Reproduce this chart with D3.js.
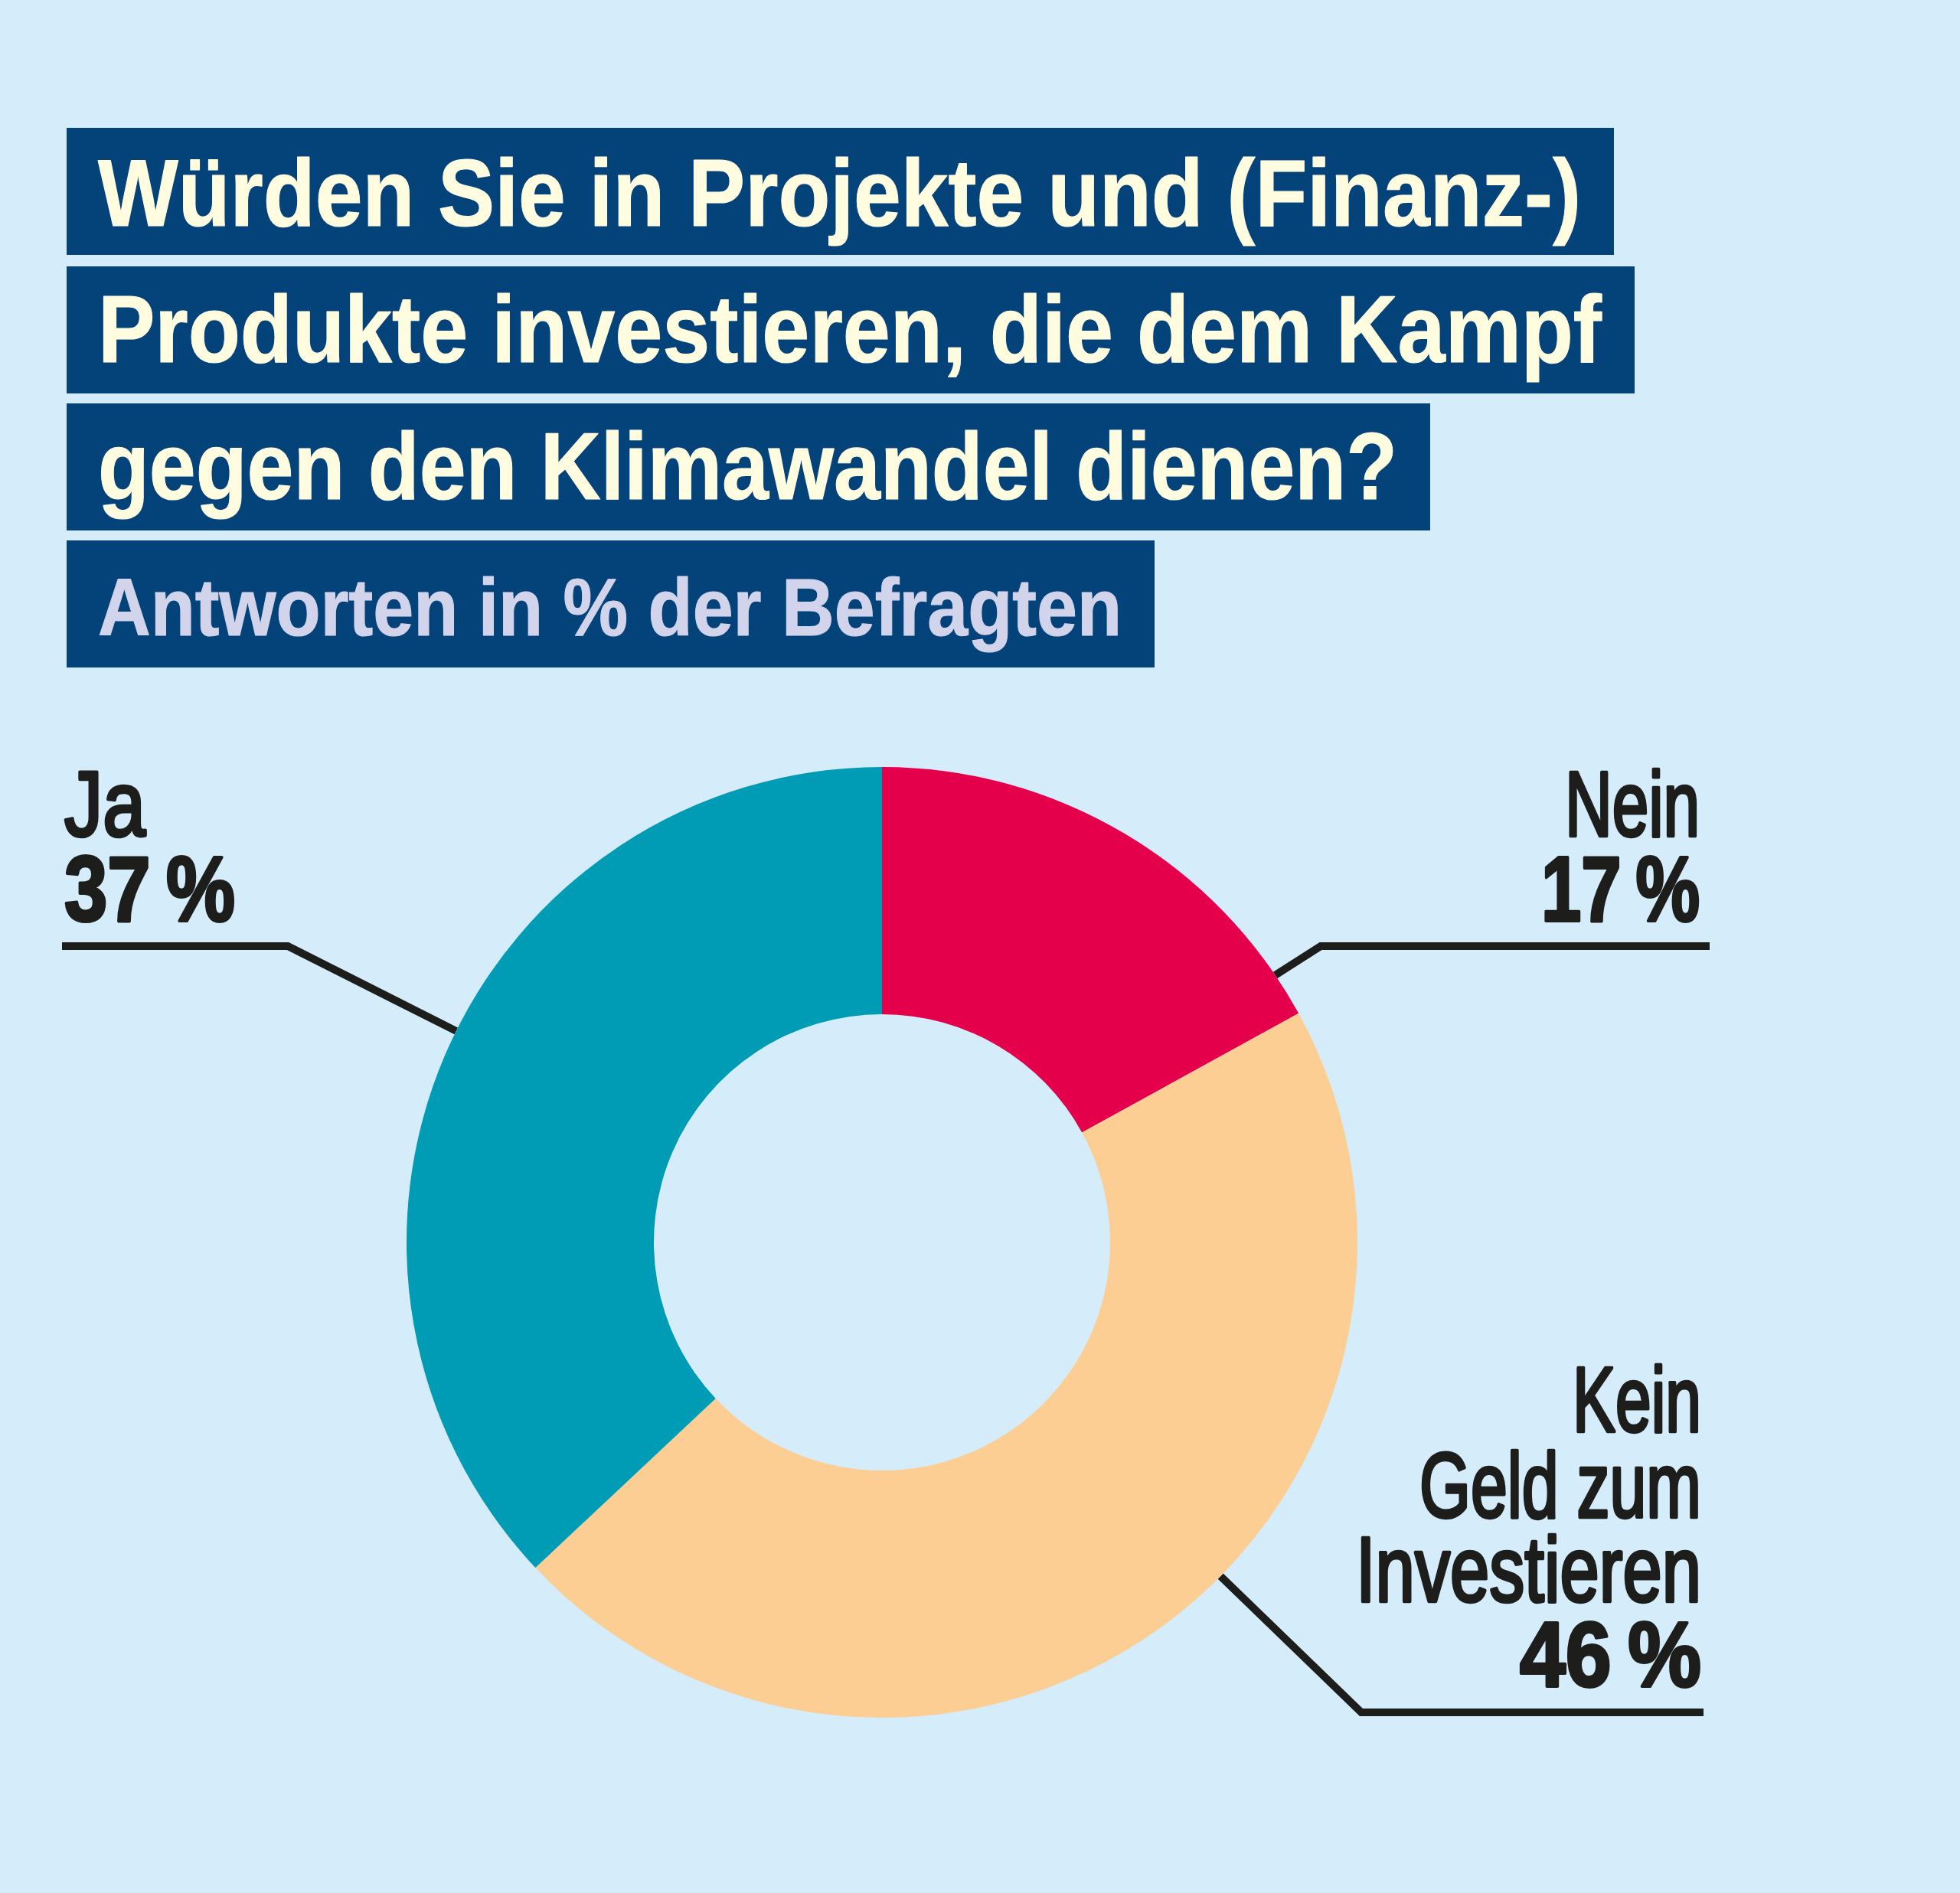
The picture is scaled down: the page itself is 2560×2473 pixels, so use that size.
<!DOCTYPE html>
<html>
<head>
<meta charset="utf-8">
<script src="https://cdn.jsdelivr.net/npm/d3@7/dist/d3.min.js"></script>
<style>
  html, body { margin: 0; padding: 0; background: #D5EDFA; }
  svg { display: block; }
</style>
</head>
<body>
<script>
// ---------- data ----------
const categories = ["Nein", "Kein Geld zum Investieren", "Ja"];
const values = [17, 46, 37];
const labelLines = [["Nein"], ["Kein", "Geld zum", "Investieren"], ["Ja"]];
const titleLines = [
  "Würden Sie in Projekte und (Finanz-)",
  "Produkte investieren, die dem Kampf",
  "gegen den Klimawandel dienen?"
];
const subtitle = "Antworten in % der Befragten";

// ---------- layout / style ----------
const W = 2560, H = 2473;
const colors = ["#E4004A", "#FCCE94", "#009BB4"];
const bg = "#D5EDFA", navy = "#03437A", cream = "#FFFCE0", lavender = "#D2D4EB", ink = "#1D1D1B";
const cx = 1152, cy = 1623, rOuter = 621, rInner = 298;

const titleFont = "'Liberation Sans', Arimo, Arial, sans-serif";
const labelFont = "'Liberation Sans Narrow', 'Arial Narrow', 'Liberation Sans', sans-serif";

// title row layout
const titleRows = [
  {y: 167, baseline: 295, width: 1937, size: 124, color: cream},
  {y: 348, baseline: 473, width: 1964, size: 124, color: cream},
  {y: 527, baseline: 652, width: 1697, size: 124, color: cream},
  {y: 706, baseline: 830, width: 1337, size: 105, color: lavender}
];
const boxX = 87, boxH = 166, padR = 43, textX = 128;

// label layout per slice (index matches categories)
const labelLayout = [
  {anchor: "end",   x: 2220, baselines: [1092], widths: [176], valBase: 1203, valW: 207,
   angle: 55.8, elbow: [1725, 1236], endX: 2233},
  {anchor: "end",   x: 2222, baselines: [1870, 1982, 2092], widths: [168, 368, 451], valBase: 2203, valW: 237,
   angle: 134.6, elbow: [1778, 2237], endX: 2225},
  {anchor: "start", x: 84,   baselines: [1092], widths: [106], valBase: 1203, valW: 223,
   angle: 296.4, elbow: [376, 1236], endX: 81}
];

// ---------- drawing ----------
const svg = d3.select("body").append("svg").attr("width", W).attr("height", H);
svg.append("rect").attr("width", W).attr("height", H).attr("fill", bg);

// title boxes
const allTitle = titleLines.concat([subtitle]);
const tg = svg.append("g");
allTitle.forEach((t, i) => {
  const r = titleRows[i];
  tg.append("rect")
    .attr("x", boxX).attr("y", r.y)
    .attr("width", (textX - boxX) + r.width + padR).attr("height", boxH)
    .attr("fill", navy);
  tg.append("text")
    .attr("x", textX).attr("y", r.baseline)
    .attr("font-family", titleFont).attr("font-weight", 700)
    .attr("font-size", r.size).attr("fill", r.color)
    .attr("stroke", r.color).attr("stroke-width", 1.2).attr("stroke-linejoin", "round")
    .attr("textLength", r.width).attr("lengthAdjust", "spacingAndGlyphs")
    .text(t);
});

// leader lines (drawn below the donut)
const pie = d3.pie().sort(null).value(d => d).startAngle(0).endAngle(2 * Math.PI);
const arcs = pie(values);
const arc = d3.arc().innerRadius(rInner).outerRadius(rOuter);

const lg = svg.append("g");
labelLayout.forEach((L, i) => {
  const a = L.angle * Math.PI / 180;
  const px = cx + rOuter * Math.sin(a), py = cy - rOuter * Math.cos(a);
  lg.append("path")
    .attr("d", d3.line()([[px, py], L.elbow, [L.endX, L.elbow[1]]]))
    .attr("fill", "none").attr("stroke", ink).attr("stroke-width", 10)
    .attr("stroke-linejoin", "miter");
});

// donut
svg.append("g").attr("transform", `translate(${cx},${cy})`)
  .selectAll("path").data(arcs).join("path")
  .attr("d", arc)
  .attr("fill", (d, i) => colors[i]);

// labels
const lab = svg.append("g");
labelLayout.forEach((L, i) => {
  labelLines[i].forEach((s, j) => {
    lab.append("text")
      .attr("x", L.x).attr("y", L.baselines[j])
      .attr("text-anchor", L.anchor)
      .attr("font-family", labelFont).attr("font-weight", 400)
      .attr("font-size", 121).attr("fill", ink)
      .attr("stroke", ink).attr("stroke-width", 4.5).attr("stroke-linejoin", "round")
      .attr("textLength", L.widths[j]).attr("lengthAdjust", "spacingAndGlyphs")
      .text(s);
  });
  lab.append("text")
    .attr("x", L.x).attr("y", L.valBase)
    .attr("text-anchor", L.anchor)
    .attr("font-family", labelFont).attr("font-weight", 700)
    .attr("font-size", 121).attr("fill", ink)
    .attr("stroke", ink).attr("stroke-width", 4).attr("stroke-linejoin", "round")
    .attr("textLength", L.valW).attr("lengthAdjust", "spacingAndGlyphs")
    .text(values[i] + "\u2009%");
});
</script>
</body>
</html>
